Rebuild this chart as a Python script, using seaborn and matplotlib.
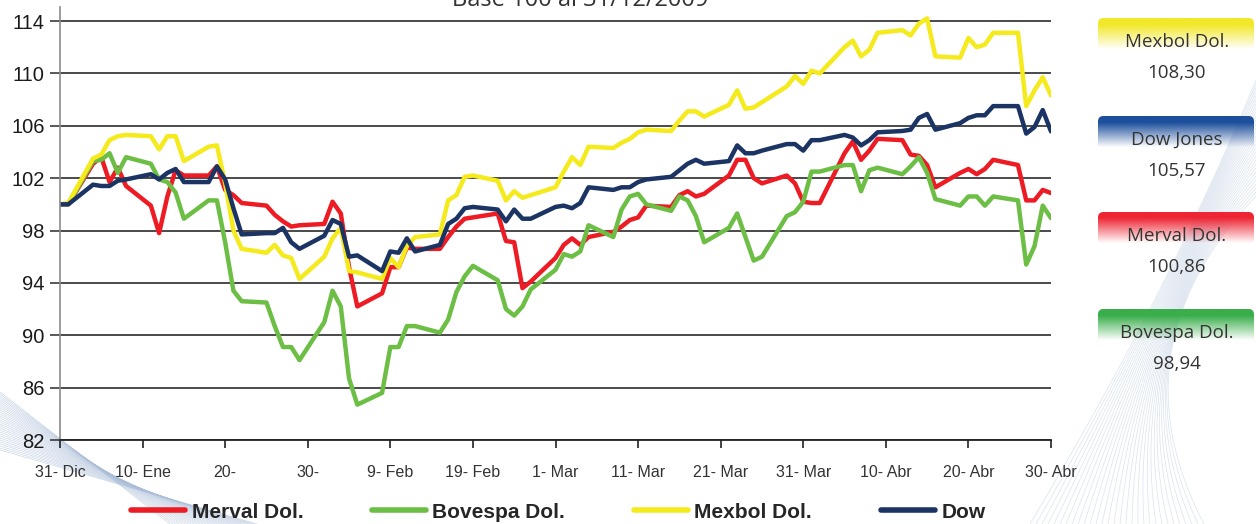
import numpy as np
import pandas as pd
import seaborn as sns
import matplotlib.pyplot as plt
from matplotlib.patches import FancyBboxPatch
from matplotlib.lines import Line2D

# Datos: base 100 al 31/12/2009, cierres diarios en dolares
fechas = pd.bdate_range('2009-12-31', '2010-04-30')

merval = [100.0, 100.0,
          103.1, 103.6, 101.7, 102.8, 101.4,
          99.9, 97.8, 100.6, 102.6, 102.2,
          102.2, 102.9, 101.1, 100.7, 100.1,
          99.9, 99.2, 98.7, 98.3, 98.4,
          98.5, 100.2, 99.3, 95.2, 92.2,
          93.2, 95.2, 95.2, 96.7, 96.6,
          96.6, 97.5, 98.3, 98.9, 99.0,
          99.3, 97.2, 97.1, 93.6, 94.1,
          95.9, 96.9, 97.4, 96.9, 97.5,
          97.9, 98.3, 98.8, 99.0, 99.9,
          99.8, 100.7, 101.0, 100.6, 100.8,
          102.2, 103.4, 103.4, 102.0, 101.6,
          102.2, 101.6, 100.2, 100.1, 100.1,
          103.9, 104.8, 103.4, 104.1, 105.0,
          104.9, 103.8, 103.7, 103.0, 101.3,
          102.4, 102.7, 102.3, 102.7, 103.4,
          103.0, 100.3, 100.3, 101.1, 100.86]

bovespa = [100.0, 100.0,
           103.3, 103.4, 103.9, 102.4, 103.6,
           103.1, 101.9, 101.7, 100.9, 98.9,
           100.3, 100.3, 97.1, 93.4, 92.6,
           92.5, 90.7, 89.1, 89.1, 88.1,
           91.0, 93.4, 92.2, 86.7, 84.7,
           85.6, 89.1, 89.1, 90.7, 90.7,
           90.2, 91.2, 93.3, 94.5, 95.3,
           94.2, 92.0, 91.5, 92.2, 93.5,
           95.0, 96.2, 96.0, 96.4, 98.4,
           97.5, 99.6, 100.6, 100.8, 100.0,
           99.5, 100.6, 100.3, 99.1, 97.1,
           98.2, 99.3, 97.5, 95.7, 96.0,
           99.1, 99.4, 100.2, 102.5, 102.5,
           103.0, 103.0, 101.0, 102.6, 102.8,
           102.3, 102.9, 103.6, 102.4, 100.4,
           99.9, 100.6, 100.6, 99.9, 100.6,
           100.3, 95.4, 96.8, 99.9, 98.94]

mexbol = [100.0, 100.1,
          103.5, 103.8, 104.9, 105.2, 105.3,
          105.2, 104.2, 105.2, 105.2, 103.3,
          104.4, 104.5, 101.6, 98.0, 96.6,
          96.3, 96.9, 96.1, 95.9, 94.3,
          96.0, 97.4, 98.2, 94.9, 94.8,
          94.3, 95.9, 95.2, 96.8, 97.5,
          97.7, 100.3, 100.7, 102.1, 102.2,
          101.8, 100.3, 101.0, 100.5, 100.7,
          101.3, 102.5, 103.6, 103.0, 104.4,
          104.3, 104.7, 105.0, 105.5, 105.7,
          105.6, 106.4, 107.1, 107.1, 106.7,
          107.6, 108.7, 107.3, 107.4, 107.8,
          109.0, 109.8, 109.2, 110.2, 110.0,
          112.0, 112.5, 111.3, 111.8, 113.1,
          113.3, 112.9, 113.8, 114.2, 111.3,
          111.2, 112.7, 112.0, 112.2, 113.1,
          113.1, 107.5, 108.7, 109.7, 108.30]

dow = [100.0, 100.0,
       101.5, 101.4, 101.4, 101.8, 101.9,
       102.3, 101.9, 102.4, 102.7, 101.7,
       101.7, 102.9, 101.9, 99.7, 97.7,
       97.8, 97.8, 98.2, 97.1, 96.6,
       97.6, 98.8, 98.5, 96.0, 96.1,
       94.9, 96.4, 96.3, 97.4, 96.4,
       96.9, 98.5, 98.9, 99.7, 99.8,
       99.6, 98.7, 99.6, 98.9, 98.9,
       99.8, 99.9, 99.7, 100.1, 101.3,
       101.1, 101.3, 101.3, 101.7, 101.9,
       102.1, 102.6, 103.1, 103.4, 103.1,
       103.3, 104.5, 103.9, 103.9, 104.1,
       104.6, 104.6, 104.1, 104.9, 104.9,
       105.3, 105.1, 104.5, 104.9, 105.5,
       105.6, 105.7, 106.6, 106.9, 105.7,
       106.2, 106.6, 106.8, 106.8, 107.5,
       107.5, 105.4, 105.9, 107.2, 105.57]

series = ['Merval Dol.', 'Bovespa Dol.', 'Mexbol Dol.', 'Dow']
colores = ['#ED1C24', '#6CBE45', '#F4EA1C', '#1B3463']

ticks_x = pd.date_range('2009-12-31', periods=13, freq='10D')
etiquetas_x = ['31- Dic', '10- Ene', '20-', '30-', '9- Feb', '19- Feb', '1- Mar',
               '11- Mar', '21- Mar', '31- Mar', '10- Abr', '20- Abr', '30- Abr']

cajas = ['Mexbol Dol.', 'Dow Jones', 'Merval Dol.', 'Bovespa Dol.']
cajas_valor = ['108,30', '105,57', '100,86', '98,94']
cajas_color = ['#F2E82A', '#1D4F9C', '#EE2533', '#39AE4A']

df = pd.DataFrame({
    'fecha': np.tile(fechas, 4),
    'valor': merval + bovespa + mexbol + dow,
    'serie': np.repeat(series, len(fechas)),
})

sns.set_style('white')
plt.rcParams['font.family'] = ['Liberation Sans', 'DejaVu Sans']

W, H = 1256, 524
fig = plt.figure(figsize=(W / 100, H / 100), dpi=100)

# fondo: lineas finas decorativas
deco = fig.add_axes([0, 0, 1, 1], zorder=-5)
deco.set_xlim(0, W)
deco.set_ylim(H, 0)
deco.axis('off')
for k in range(30):
    deco.plot([0, 170 + k * 3], [392 + k * 2.0, H], color='#A9BCD8', lw=0.5, alpha=0.6)
for k in range(30):
    t = np.linspace(0, 1, 40)
    x0, y0 = W, 80 + k * 4
    x1, y1 = 1170 - k * 2, 290 + k * 2
    x2, y2 = 1030 + k * 6, H
    xs = (1 - t) ** 2 * x0 + 2 * (1 - t) * t * x1 + t ** 2 * x2
    ys = (1 - t) ** 2 * y0 + 2 * (1 - t) * t * y1 + t ** 2 * y2
    deco.plot(xs, ys, color='#B7C7DE', lw=0.5, alpha=0.5)

ax = fig.add_axes([60 / W, 1 - 440 / H, 991 / W, 433 / H])
ax.patch.set_alpha(0)
sns.lineplot(data=df, x='fecha', y='valor', hue='serie', hue_order=series,
             palette=colores, linewidth=3.2, legend=False, ax=ax)

ax.set_xlim(fechas[0], fechas[-1])
ax.set_ylim(82, 115.07)
ax.set_yticks(range(82, 115, 4))
ax.set_xticks(ticks_x)
ax.set_xticklabels(etiquetas_x)
ax.set_xlabel('')
ax.set_ylabel('')
ax.yaxis.grid(True, color='#3C3C3C', lw=1.3)
ax.set_axisbelow(True)
for s in ['top', 'right']:
    ax.spines[s].set_visible(False)
ax.spines['left'].set_color('#8A8A8A')
ax.spines['left'].set_linewidth(1.2)
ax.spines['bottom'].set_color('#222222')
ax.spines['bottom'].set_linewidth(1.3)
ax.tick_params(axis='y', left=True, length=7, width=1.2, color='#3C3C3C',
               labelsize=14.5, labelcolor='#1A1A1A', pad=4)
ax.tick_params(axis='x', bottom=True, length=6, width=1.2, color='#222222',
               labelsize=11.5, labelcolor='#333333', pad=12)

fig.text(0.462, 1 - 6 / H, 'Base 100 al 31/12/2009', ha='center', va='baseline',
         fontsize=17, color='#333333', family=['Open Sans', 'DejaVu Sans'])

handles = [Line2D([], [], color=c, lw=4) for c in colores]
fig.legend(handles, series, loc='center', bbox_to_anchor=(0.4445, 1 - 512 / H),
           ncol=4, frameon=False, handlelength=2.6, handletextpad=0.3,
           columnspacing=3.3, prop={'weight': 'bold', 'size': 15})

# cajas de la derecha con degradado
tops = [18, 116, 212, 309]
for nombre, valor, color, top in zip(cajas, cajas_valor, cajas_color, tops):
    bax = fig.add_axes([1098 / W, 1 - (top + 34) / H, 156 / W, 34 / H])
    bax.axis('off')
    rgb = np.array(plt.matplotlib.colors.to_rgb(color))
    t = np.linspace(0, 1, 64)[:, None]
    alpha = np.clip(1.25 - 1.35 * t, 0, 1)
    img = np.zeros((64, 1, 4))
    img[..., :3] = rgb
    img[..., 3] = alpha
    im = bax.imshow(img, extent=[0, 1, 0, 1], aspect='auto')
    box = FancyBboxPatch((0, 0), 1, 1, boxstyle='round,pad=0,rounding_size=0.035',
                         mutation_aspect=156 / 34, transform=bax.transAxes,
                         fc='none', ec='none')
    bax.add_patch(box)
    im.set_clip_path(box)
    bax.set_xlim(0, 1)
    bax.set_ylim(0, 1)
    fig.text(1177 / W, 1 - (top + 24) / H, nombre, ha='center', va='center',
             fontsize=13.5, color='#333333', family=['Open Sans', 'DejaVu Sans'])
    fig.text(1177 / W, 1 - (top + 55) / H, valor, ha='center', va='center',
             fontsize=13.5, color='#333333', family=['Open Sans', 'DejaVu Sans'])

fig.savefig('out.png', dpi=100)
